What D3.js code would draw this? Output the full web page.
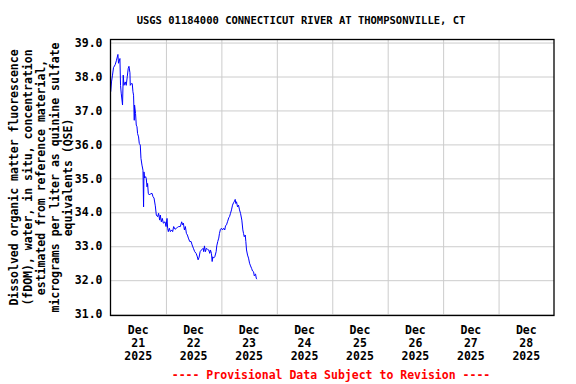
<!DOCTYPE html>
<html><head><meta charset="utf-8">
<script src="https://cdn.jsdelivr.net/npm/d3@7"></script>
<style>body{margin:0;background:#fff}svg{display:block}text{font-family:"DejaVu Sans Mono",monospace;font-weight:bold}</style>
</head><body>
<svg id="c" width="576" height="384"></svg>
<script>
const title = "USGS 01184000 CONNECTICUT RIVER AT THOMPSONVILLE, CT";
const yTitle = ["Dissolved organic matter fluorescence","(fDOM), water, in situ, concentration","estimated from reference material,","micrograms per liter as quinine sulfate","equivalents (QSE)"];
const footer = "---- Provisional Data Subject to Revision ----";
const yTicks = [31,32,33,34,35,36,37,38,39];
const xDays = [21,22,23,24,25,26,27,28];
const startDate = Date.UTC(2025,11,21);
// hours since 2025-12-21 00:00
const hours = [0.1,0.43,0.87,1.30,2.04,2.60,3.21,3.47,4.08,4.34,4.64,5.21,5.51,5.82,6.38,6.81,7.25,7.68,7.99,8.42,8.55,8.98,9.42,9.72,9.98,10.29,10.42,10.85,11.15,11.46,11.72,12.15,12.46,12.89,13.19,13.63,14.06,14.32,14.50,14.76,15.19,15.49,15.80,16.06,16.36,16.80,17.23,17.97,18.40,18.84,19.40,19.83,20.40,20.83,21.27,21.57,22.00,22.44,22.87,23.61,24.04,24.48,24.74,25.04,25.48,25.91,26.47,26.91,27.34,27.95,28.51,29.08,29.51,30.25,30.81,31.25,31.55,31.99,32.42,32.85,33.29,33.72,34.29,34.89,35.33,35.89,36.46,37.06,37.50,37.93,38.37,38.80,39.37,40.10,40.36,40.67,41.10,41.53,41.97,42.53,42.97,43.27,43.70,44.01,44.27,44.57,45.14,45.74,46.00,46.44,46.87,47.18,47.61,48.05,48.48,49.04,49.48,49.78,50.21,50.65,51.21,51.52,51.95,52.38,52.82,53.25,53.69,53.99,54.25,54.55,54.99,55.42,55.86,56.29,56.86,57.29,57.59,57.90,58.33,58.59,58.89,59.33,59.76,60.20,60.63,61.07,61.50,61.93,62.24,62.49,62.80,63.10,63.36];
const values = [37.55,37.84,38.04,38.26,38.35,38.48,38.65,38.39,38.53,37.74,37.51,37.16,38.04,37.74,37.84,37.74,37.99,38.24,38.30,38.11,37.74,37.79,37.79,37.55,37.45,36.71,37.16,36.91,36.57,36.52,36.32,36.22,36.03,35.98,35.59,35.39,35.24,34.16,35.19,35.01,35.05,35.00,34.75,34.85,34.56,34.51,34.54,34.56,34.46,34.42,34.19,33.92,33.87,33.97,33.77,33.92,33.72,33.82,33.68,33.72,33.58,33.82,33.53,33.43,33.53,33.43,33.48,33.43,33.58,33.50,33.53,33.56,33.58,33.58,33.72,33.63,33.68,33.48,33.58,33.38,33.33,33.24,33.14,33.14,33.04,32.94,32.84,32.79,32.71,32.60,32.68,32.84,32.89,32.94,32.84,33.01,32.84,32.94,32.91,32.89,32.79,32.89,32.79,32.55,32.69,32.65,32.69,32.84,33.01,33.14,33.24,33.38,33.50,33.53,33.48,33.53,33.48,33.60,33.63,33.72,33.84,33.87,33.97,34.07,34.21,34.28,34.33,34.38,34.26,34.31,34.16,34.21,34.07,33.97,33.77,33.48,33.38,33.28,33.33,33.14,32.89,32.74,32.65,32.50,32.42,32.35,32.27,32.25,32.13,32.16,32.18,32.06,32.03];

const svg = d3.select("#c");
const L = 110.5, R = 554, T = 39.5, B = 315.5;
const x = d3.scaleUtc().domain([new Date(startDate), new Date(startDate + 8*864e5)]).range([L, R]);
const y = d3.scaleLinear().domain([30.96, 39.09]).range([B, T]);

// grid
const gx = d3.axisBottom(x).tickValues(xDays.slice(1).map(d => new Date(Date.UTC(2025,11,d)))).tickSize(-(B-T)).tickFormat("");
svg.append("g").attr("transform",`translate(0,${B})`).call(gx)
  .call(g => { g.select(".domain").remove(); g.selectAll("line").attr("stroke","#cccccc").attr("stroke-width",1); });
const gy = d3.axisLeft(y).tickValues(yTicks).tickSize(-(R-L)).tickFormat("");
svg.append("g").attr("transform",`translate(${L},0)`).call(gy)
  .call(g => { g.select(".domain").remove(); g.selectAll("line").attr("stroke","#cccccc").attr("stroke-width",1); });

// y tick labels
svg.append("g").attr("transform",`translate(${L},0)`)
  .call(d3.axisLeft(y).tickValues(yTicks).tickSize(0).tickPadding(8).tickFormat(d3.format(".1f")))
  .call(g => { g.select(".domain").remove(); g.selectAll("text").attr("font-size","11.5px").attr("fill","#000").attr("font-family","DejaVu Sans Mono").attr("font-weight","bold"); });

// x labels (noon of each day)
const xl = svg.append("g");
xDays.forEach(d => {
  const cx = x(new Date(Date.UTC(2025,11,d,12)));
  const t = xl.append("text").attr("x", cx).attr("text-anchor","middle").attr("font-size","11.5px").attr("fill","#000");
  ["Dec", String(d), "2025"].forEach((s,i) => t.append("tspan").attr("x",cx).attr("y",334 + i*13).text(s));
});

// line
const data = hours.map((h,i) => ({t: new Date(startDate + h*3600e3), v: values[i]}));
svg.append("path").datum(data).attr("fill","none").attr("stroke","#0000ff").attr("stroke-width",1)
  .attr("d", d3.line().x(d => x(d.t)).y(d => y(d.v)));

// frame
svg.append("rect").attr("x",L).attr("y",T).attr("width",R-L).attr("height",B-T).attr("fill","none").attr("stroke","#000").attr("stroke-width",1.3);

// title
svg.append("text").attr("x",301).attr("y",24).attr("text-anchor","middle").attr("font-size","10.5px").attr("fill","#000").text(title);

// y title
const yt = svg.append("text").attr("transform",`translate(0,${(T+B)/2}) rotate(-90)`).attr("text-anchor","middle").attr("font-size","11.5px").attr("fill","#000");
yTitle.forEach((s,i) => yt.append("tspan").attr("x",0).attr("y",18 + i*13.5).text(s));

// footer
svg.append("text").attr("x",331).attr("y",379).attr("text-anchor","middle").attr("font-size","11.5px").attr("fill","#ff0000").text(footer);
</script>
</body></html>
